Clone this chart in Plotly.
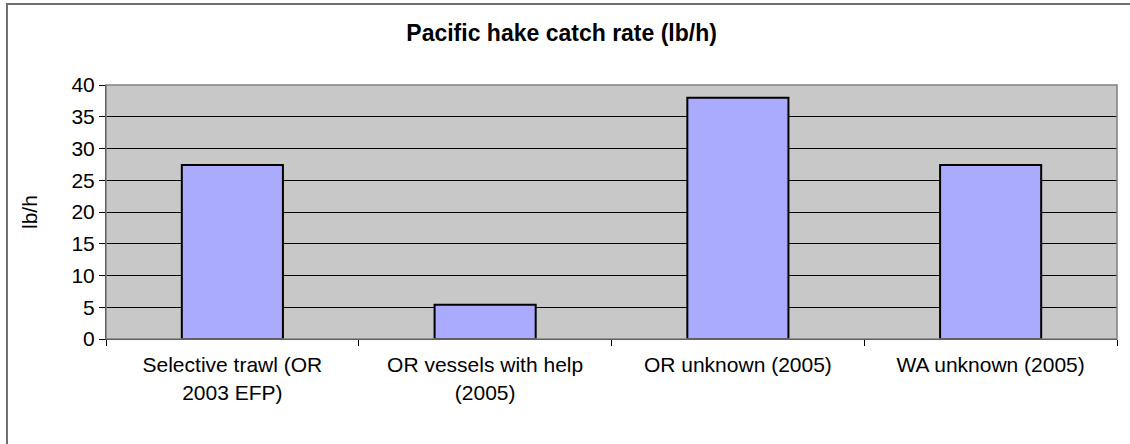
import plotly.graph_objects as go

categories = ["Selective trawl (OR<br>2003 EFP)", "OR vessels with help<br>(2005)",
              "OR unknown (2005)", "WA unknown (2005)"]
values = [27.4, 5.4, 38.0, 27.4]
title_text = "Pacific hake catch rate (lb/h)"
y_title = "lb/h"

W, H = 1130, 444
L, R, T, B = 106, 1117, 85, 339  # plot area in pixels

def px_x(p):
    return (p - L) / (R - L)

def px_y(p):
    return (B - p) / (B - T)

fig = go.Figure()
fig.add_trace(go.Bar(
    x=categories, y=values,
    marker=dict(color="#AAAAFF", line=dict(color="black", width=2)),
))

font_family = "Liberation Sans, Arial, sans-serif"
fs = 21

fig.update_layout(
    width=W, height=H, autosize=False,
    margin=dict(l=L, r=W - R, t=T, b=H - B, pad=0),
    paper_bgcolor="white", plot_bgcolor="#C8C8C8",
    bargap=0.6, showlegend=False,
    font=dict(family=font_family, size=fs, color="black"),
    title=dict(text="<b>" + title_text + "</b>", x=0.497, xanchor="center",
               y=1 - 33 / H, yanchor="middle", yref="container",
               font=dict(size=23, family=font_family, color="black")),
)

fig.update_xaxes(
    showgrid=False, showline=True, linecolor="black", linewidth=1,
    ticks="outside", tickson="boundaries", ticklen=6, tickcolor="black",
    tickfont=dict(size=fs), ticklabelstandoff=7,
)
fig.update_yaxes(
    range=[0, 40], dtick=5, showgrid=True, gridcolor="black", gridwidth=1,
    showline=True, linecolor="black", linewidth=1,
    ticks="outside", ticklen=6, tickcolor="black", tickfont=dict(size=fs),
    zeroline=False,
)

# plot area border
fig.add_shape(type="rect", xref="paper", yref="paper", x0=0, y0=0, x1=1, y1=1,
              line=dict(color="#808080", width=1.5), layer="above")
# outer chart border
fig.add_shape(type="rect", xref="paper", yref="paper",
              x0=px_x(7), y0=px_y(450), x1=px_x(1140), y1=px_y(4),
              line=dict(color="#707070", width=2), layer="above")

fig.add_annotation(text=y_title, textangle=-90, xref="paper", yref="paper",
                   x=px_x(29), y=px_y(212), xanchor="center", yanchor="middle",
                   showarrow=False, font=dict(size=fs, family=font_family))

fig.write_html("out.html", config={"displayModeBar": False},
               post_script="document.body.style.margin='0';")
